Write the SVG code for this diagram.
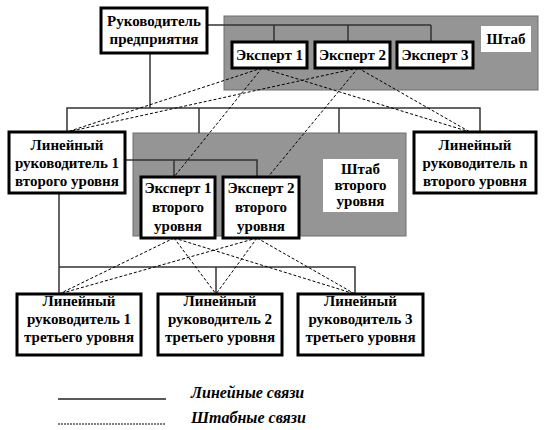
<svg xmlns="http://www.w3.org/2000/svg" width="546" height="430" viewBox="0 0 546 430">
<style>
.box{fill:#fff;stroke:#000;stroke-width:3}
.grey{fill:#959595;stroke:#6e6e6e;stroke-width:1}
.lbl{fill:#fff;stroke:none}
.t{font-family:"Liberation Serif","Times New Roman",serif;font-weight:bold;font-size:15px;text-anchor:middle;fill:#000}
.lg{font-family:"Liberation Serif","Times New Roman",serif;font-weight:bold;font-style:italic;font-size:16px;fill:#000}
.solid{fill:none;stroke:#333;stroke-width:1.5}
.dash{fill:none;stroke:#000;stroke-width:1;stroke-dasharray:3 2}
</style>
<rect width="546" height="430" fill="#fff"/>
<g id="staff1">
<rect class="grey" x="224" y="16" width="314" height="74"/>
<rect class="lbl" x="481" y="26" width="50" height="26"/>
<text class="t" x="506" y="44">Штаб</text>
</g>
<g id="staff2">
<rect class="grey" x="133" y="133" width="273" height="103"/>
<rect class="lbl" x="323" y="159" width="75" height="53"/>
<text class="t" x="360.5" y="174">Штаб</text>
<text class="t" x="360.5" y="190">второго</text>
<text class="t" x="360.5" y="206">уровня</text>
</g>
<g id="connectors">
<polyline class="solid" points="207,25 431,25"/>
<line class="solid" x1="274" y1="25" x2="274" y2="42"/>
<line class="solid" x1="348" y1="25" x2="348" y2="42"/>
<line class="solid" x1="431" y1="25" x2="431" y2="42"/>
<line class="solid" x1="150" y1="53" x2="150" y2="108"/>
<polyline class="solid" points="67,132 67,108 480,108 480,132"/>
<line class="solid" x1="199" y1="108" x2="199" y2="133"/>
<line class="solid" x1="339" y1="108" x2="339" y2="133"/>
<polyline class="solid" points="125,160 257,160 257,177"/>
<line class="solid" x1="174" y1="160" x2="174" y2="177"/>
<line class="solid" x1="59" y1="193" x2="59" y2="294"/>
<polyline class="solid" points="59,267 355,267 355,294"/>
<line class="solid" x1="216" y1="267" x2="216" y2="294"/>
<line class="dash" x1="262" y1="68" x2="67" y2="132"/>
<line class="dash" x1="262" y1="68" x2="174" y2="177"/>
<line class="dash" x1="262" y1="68" x2="470" y2="132"/>
<line class="dash" x1="358" y1="68" x2="67" y2="132"/>
<line class="dash" x1="358" y1="68" x2="268" y2="177"/>
<line class="dash" x1="358" y1="68" x2="470" y2="132"/>
<line class="dash" x1="174" y1="238" x2="59" y2="294"/>
<line class="dash" x1="174" y1="238" x2="216" y2="294"/>
<line class="dash" x1="174" y1="238" x2="355" y2="294"/>
<line class="dash" x1="257" y1="238" x2="59" y2="294"/>
<line class="dash" x1="257" y1="238" x2="216" y2="294"/>
<line class="dash" x1="257" y1="238" x2="355" y2="294"/>
</g>
<g id="head">
<rect class="box" x="101" y="8" width="106" height="45"/>
<text class="t" x="154" y="26">Руководитель</text>
<text class="t" x="154" y="44">предприятия</text>
</g>
<g id="exp1">
<rect class="box" x="232" y="42" width="75" height="26"/>
<text class="t" x="269.5" y="60">Эксперт 1</text>
</g>
<g id="exp2">
<rect class="box" x="315" y="42" width="75" height="26"/>
<text class="t" x="352.5" y="60">Эксперт 2</text>
</g>
<g id="exp3">
<rect class="box" x="397" y="42" width="76" height="26"/>
<text class="t" x="435" y="60">Эксперт 3</text>
</g>
<g id="lin1">
<rect class="box" x="9" y="132" width="116" height="61"/>
<text class="t" x="67" y="150">Линейный</text>
<text class="t" x="67" y="168">руководитель 1</text>
<text class="t" x="67" y="186">второго уровня</text>
</g>
<g id="linn">
<rect class="box" x="414" y="132" width="122" height="61"/>
<text class="t" x="475" y="150">Линейный</text>
<text class="t" x="475" y="168">руководитель n</text>
<text class="t" x="475" y="186">второго уровня</text>
</g>
<g id="exp1b">
<rect class="box" x="141" y="177" width="74" height="61"/>
<text class="t" x="178" y="193">Эксперт 1</text>
<text class="t" x="178" y="212">второго</text>
<text class="t" x="178" y="231">уровня</text>
</g>
<g id="exp2b">
<rect class="box" x="223" y="177" width="76" height="61"/>
<text class="t" x="261" y="193">Эксперт 2</text>
<text class="t" x="261" y="212">второго</text>
<text class="t" x="261" y="231">уровня</text>
</g>
<g id="lin31">
<rect class="box" x="17" y="294" width="124" height="61"/>
<text class="t" x="79" y="306">Линейный</text>
<text class="t" x="79" y="324">руководитель 1</text>
<text class="t" x="79" y="342">третьего уровня</text>
</g>
<g id="lin32">
<rect class="box" x="158" y="294" width="124" height="61"/>
<text class="t" x="220" y="306">Линейный</text>
<text class="t" x="220" y="324">руководитель 2</text>
<text class="t" x="220" y="342">третьего уровня</text>
</g>
<g id="lin33">
<rect class="box" x="298" y="294" width="125" height="61"/>
<text class="t" x="360.5" y="306">Линейный</text>
<text class="t" x="360.5" y="324">руководитель 3</text>
<text class="t" x="360.5" y="342">третьего уровня</text>
</g>
<g id="legend">
<line x1="58" y1="399" x2="166" y2="399" stroke="#222" stroke-width="1.5"/>
<text class="lg" x="191" y="398">Линейные связи</text>
<line x1="58" y1="424" x2="166" y2="424" stroke="#555" stroke-width="1.5" stroke-dasharray="2 1"/>
<text class="lg" x="191" y="423">Штабные связи</text>
</g>
</svg>
